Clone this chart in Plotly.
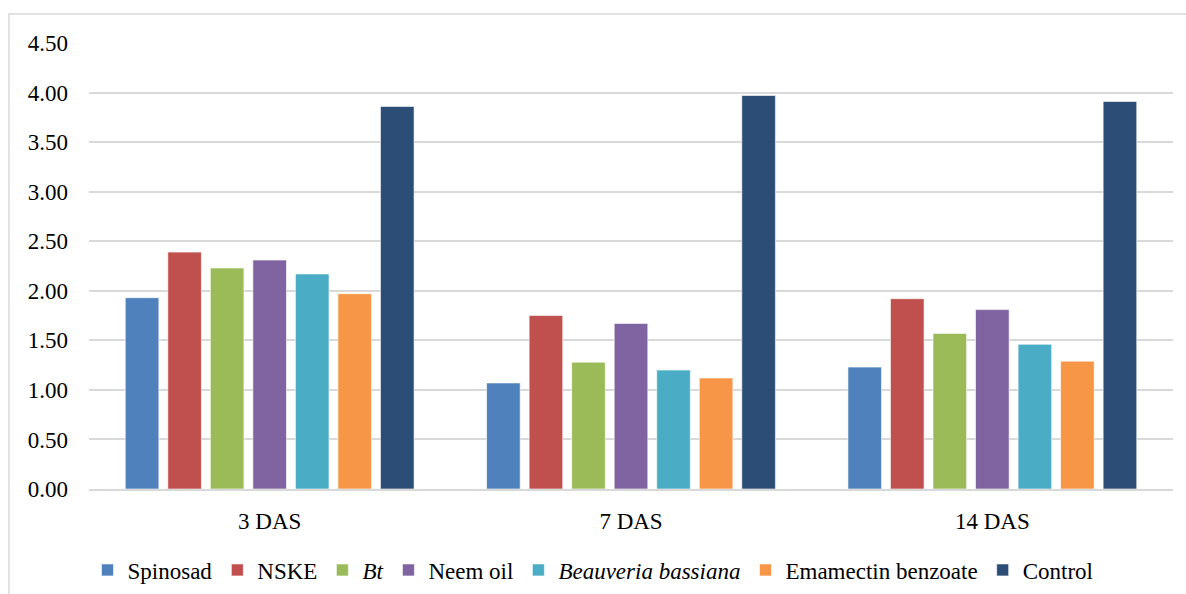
import plotly.graph_objects as go

categories = ["3 DAS", "7 DAS", "14 DAS"]
series_names = ["Spinosad", "NSKE", "<i>Bt</i>", "Neem oil", "<i>Beauveria bassiana</i>", "Emamectin benzoate", "Control"]
spinosad = [1.93, 1.07, 1.23]
nske = [2.39, 1.75, 1.92]
bt = [2.23, 1.28, 1.57]
neem_oil = [2.31, 1.67, 1.81]
beauveria = [2.17, 1.20, 1.46]
emamectin = [1.97, 1.12, 1.29]
control = [3.86, 3.97, 3.91]
tick_vals = [0, 0.5, 1, 1.5, 2, 2.5, 3, 3.5, 4, 4.5]
tick_text = ["0.00", "0.50", "1.00", "1.50", "2.00", "2.50", "3.00", "3.50", "4.00", "4.50"]

colors = ["#4F81BD", "#C0504D", "#9BBB59", "#8064A2", "#4BACC6", "#F79646", "#2C4D75"]
values = [spinosad, nske, bt, neem_oil, beauveria, emamectin, control]

FONT = "'Times New Roman', 'Liberation Serif', 'DejaVu Serif', serif"
FS = 23

fig = go.Figure()
for name, vals, col in zip(series_names, values, colors):
    fig.add_trace(go.Bar(
        x=categories, y=vals, name=name,
        marker=dict(color=col, line=dict(color="rgba(255,255,255,0.6)", width=1)),
    ))

W, H = 1186, 594
ml, mr, mt, mb = 89, 13, 43, 105
pw, ph = W - ml - mr, H - mt - mb

fig.update_layout(
    width=W, height=H,
    margin=dict(l=ml, r=mr, t=mt, b=mb, autoexpand=False),
    paper_bgcolor="white", plot_bgcolor="white",
    barmode="group", bargap=0.176, bargroupgap=0.21,
    font=dict(family=FONT, size=FS, color="#000000"),
    showlegend=True,
    legend=dict(orientation="h", x=0.5, xanchor="center", xref="container",
                y=(H - 570) / H, yanchor="middle", yref="container",
                font=dict(family=FONT, size=FS), itemwidth=30, traceorder="normal"),
    xaxis=dict(showgrid=False, showline=True, linecolor="#D9D9D9", linewidth=1.5,
               ticks="", tickfont=dict(family=FONT, size=FS), ticklabelstandoff=11),
    yaxis=dict(range=[0, 4.5], tickvals=tick_vals, ticktext=tick_text,
               showgrid=True, gridcolor="#D9D9D9", gridwidth=1.5,
               zeroline=False, ticks="", tickfont=dict(family=FONT, size=FS), ticklabelstandoff=20),
    shapes=[dict(type="rect", xref="paper", yref="paper",
                 x0=(9 - ml) / pw, x1=(W + 5 - ml) / pw,
                 y0=-(H + 10 - mt - ph) / ph, y1=(H - 14 - mb) / ph,
                 line=dict(color="#D9D9D9", width=1.5), layer="below")],
)

fig.write_html("out.html")
